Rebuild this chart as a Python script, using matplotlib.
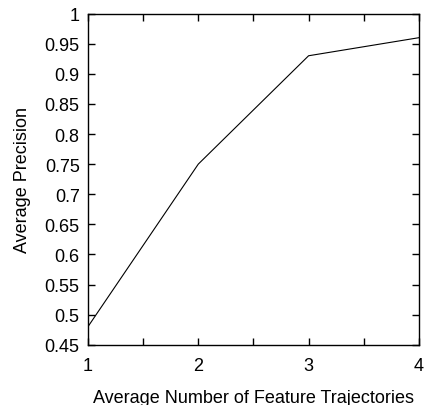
import matplotlib
matplotlib.use("Agg")
import matplotlib.pyplot as plt
from matplotlib.ticker import MultipleLocator

plt.rcParams['font.family'] = ['Liberation Sans', 'DejaVu Sans']

# data
trajectories = [1, 2, 3, 4]
precision = [0.48, 0.75, 0.93, 0.96]

fig = plt.figure(figsize=(4.24, 4.06), dpi=100)
ax = fig.add_axes([0.2075, 0.1485, 0.7805, 0.8155])

ax.plot(trajectories, precision, color='black', linewidth=0.8)

ax.set_xlim(1, 4)
ax.set_ylim(0.45, 1.0)
ax.xaxis.set_major_locator(MultipleLocator(1))
ax.xaxis.set_minor_locator(MultipleLocator(0.5))
ax.yaxis.set_major_locator(MultipleLocator(0.05))
ax.set_yticklabels([f"{v:g}" for v in ax.get_yticks()])

ax.tick_params(which='both', direction='in', top=True, right=True,
               length=5, width=1, labelsize=13)
ax.tick_params(axis='x', pad=8.5)
ax.tick_params(axis='y', pad=6)
for s in ax.spines.values():
    s.set_linewidth(1)

ax.set_xlabel("Average Number of Feature Trajectories", fontsize=13, labelpad=11)
ax.set_ylabel("Average Precision", fontsize=13, labelpad=10)

fig.savefig("out.png", dpi=100)
